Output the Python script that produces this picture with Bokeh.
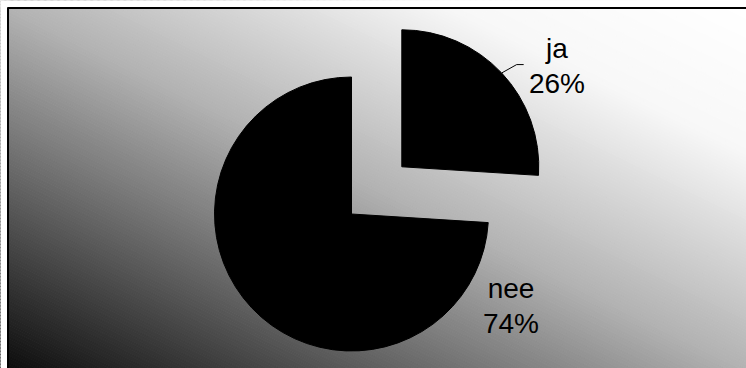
import math
import numpy as np
from bokeh.plotting import figure
from bokeh.models import Range1d, ColumnDataSource
from bokeh.core.properties import value
from bokeh.embed import file_html
from bokeh.resources import INLINE

# ---- data ----
categories = ["ja", "nee"]
percent = [26, 74]
pct_labels = ["26%", "74%"]

# ---- layout / style ----
W, H = 746, 368                # figure size = window, 1 unit = 1 px
FX0, FY1 = 8, 360              # chart area: x from FX0 to W, y from 0 to FY1
CX, CY = 351.0, 154.5          # pie centre
R = 137.0                      # pie radius
EXPLODE = [69.0, 0.0]          # per-slice explosion distance
LABEL_OFFSET = [(155.2, 100.8), (159.5, -91.9)]  # label centre relative to slice centre
LINE_GAP = 17.5
FONT = "Liberation Sans"
FSIZE = "28px"
N_BANDS = 240

p = figure(width=W, height=H, x_range=Range1d(0, W), y_range=Range1d(0, H),
           output_backend="svg", toolbar_location=None, min_border=0,
           outline_line_color=None)
p.axis.visible = False
p.grid.visible = False
p.background_fill_color = "white"
p.border_fill_color = "white"

# gradient background drawn as diagonal bands: dark bottom-left -> white top-right
GW, GH = W - FX0, FY1
edges = np.linspace(-0.04, 1.04, N_BANDS + 1)
ylo, yhi = -GH * 0.1, GH * 1.1
bxs, bys, bcol = [], [], []
for k in range(N_BANDS):
    c0, c1 = edges[k], edges[k + 1]
    def xat(c, yy):
        return FX0 + GW * (2 * c - yy / GH)
    bxs.append([xat(c0, ylo), xat(c1, ylo), xat(c1, yhi), xat(c0, yhi)])
    bys.append([ylo, ylo, yhi, yhi])
    tm = min(max((c0 + c1) / 2, 0.0), 1.0)
    gval = float(np.interp(tm, [0.0, 0.5, 0.8, 1.0], [0.05, 0.70, 0.97, 1.0]))
    gi = int(round(gval * 255))
    bcol.append("#%02x%02x%02x" % (gi, gi, gi))
p.patches(xs=bxs, ys=bys, fill_color=bcol, line_color=bcol, line_width=1)

# white margin outside the chart area
p.quad(left=[0, 0], right=[FX0, W], bottom=[0, FY1], top=[H, H],
       fill_color="white", line_color=None)

# frame lines (top and left)
p.line(x=[FX0 - 1, W], y=[FY1 + 0.5, FY1 + 0.5], line_color="black", line_width=2)
p.line(x=[FX0 - 0.5, FX0 - 0.5], y=[0, FY1 + 1], line_color="black", line_width=2)

# pie wedges
total = float(sum(percent))
xs, ys, starts, ends, mids = [], [], [], [], []
cum = 0.0
for val, ex in zip(percent, EXPLODE):
    end = math.pi / 2 - 2 * math.pi * cum / total
    start = math.pi / 2 - 2 * math.pi * (cum + val) / total
    mid = (start + end) / 2
    cum += val
    xs.append(CX + ex * math.cos(mid))
    ys.append(CY + ex * math.sin(mid))
    starts.append(start)
    ends.append(end)
    mids.append(mid)

src = ColumnDataSource(dict(x=xs, y=ys, start=starts, end=ends, cat=categories))
p.wedge(x="x", y="y", radius=R, start_angle="start", end_angle="end",
        fill_color="black", line_color="black", line_width=1, source=src)

# leader line for the first slice
x1 = xs[0] + R * math.cos(mids[0])
y1 = ys[0] + R * math.sin(mids[0])
p.line(x=[x1, x1 + 15, x1 + 22], y=[y1, y1 + 8.4, y1 + 8.4], line_color="black", line_width=1)

# labels
lx = [xs[i] + LABEL_OFFSET[i][0] for i in range(len(categories))]
ly = [ys[i] + LABEL_OFFSET[i][1] for i in range(len(categories))]
p.text(x=lx, y=[y + LINE_GAP for y in ly], text=categories,
       text_font=value(FONT), text_font_size=FSIZE, text_color="black",
       text_align="center", text_baseline="middle")
p.text(x=lx, y=[y - LINE_GAP for y in ly], text=pct_labels,
       text_font=value(FONT), text_font_size=FSIZE, text_color="black",
       text_align="center", text_baseline="middle")

open("out.html", "w").write(file_html(p, INLINE))
